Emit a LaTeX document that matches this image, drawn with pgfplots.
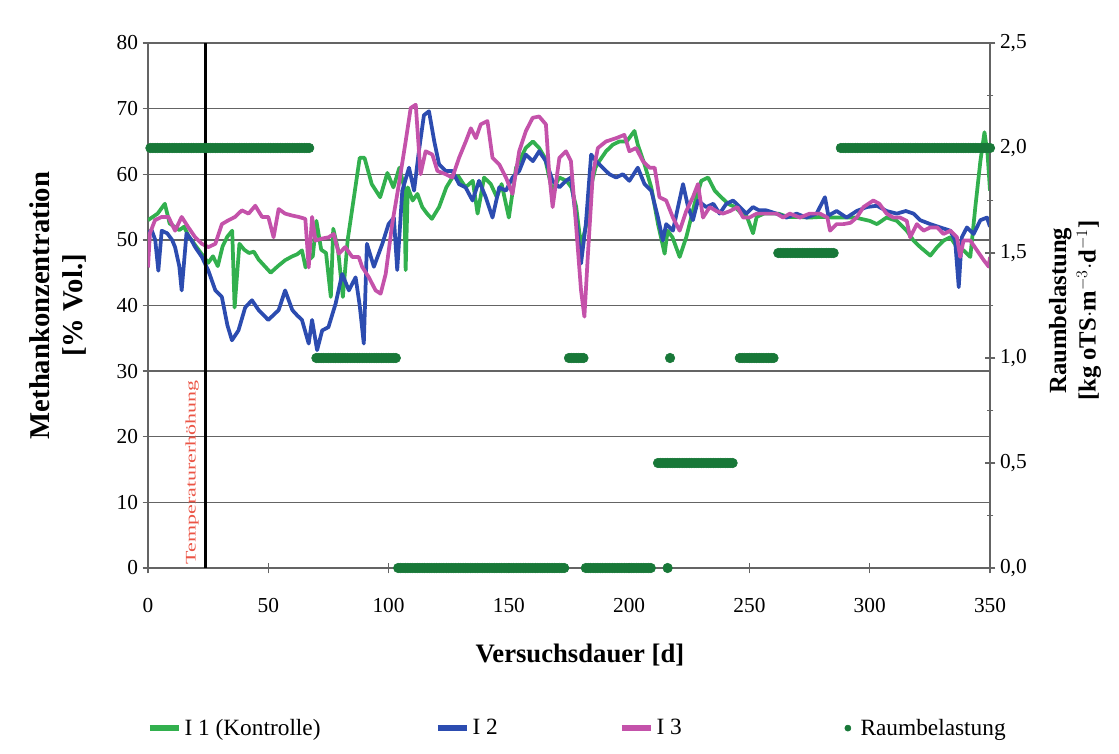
\documentclass[border=0pt]{standalone}
\usepackage{pgfplots}
\pgfplotsset{compat=1.18}
\usepackage{fontspec}
\setmainfont{Liberation Serif}
\usepackage{graphicx}

\definecolor{gI1}{RGB}{50,176,78}
\definecolor{bI2}{RGB}{44,76,176}
\definecolor{pI3}{RGB}{196,82,170}
\definecolor{raum}{RGB}{24,120,56}
\definecolor{gridgray}{RGB}{100,100,100}
\definecolor{tempred}{RGB}{235,85,70}

\pgfplotsset{
  basestyle/.style={
    scale only axis, width=631.5pt, height=393.75pt,
    at={(0,0)}, anchor=south west,
    xmin=0, xmax=350,
    axis line style={gridgray, line width=1pt},
    tick style={gridgray, line width=1pt},
    tick align=center, major tick length=8pt, minor tick length=5pt,
    tick label style={font=\fontsize{16}{18}\selectfont},
    label style={font=\bfseries, align=center},
    /pgf/number format/assume math mode=true,
  },
  serie/.style={line width=2.8pt, #1, line join=round},
  linelegend/.style={legend image code/.code={\draw[##1, line width=4pt] (0pt,0pt) -- (22pt,0pt);}},
}

\begin{document}
\begin{tikzpicture}[x=1pt,y=1pt]
\useasboundingbox (-111,-138.75) rectangle (728.25,426);

% methane concentration, left scale
\begin{axis}[basestyle,
  ymin=0, ymax=80,
  xtick={0,50,...,350}, ytick={0,10,...,80},
  axis x line*=bottom, axis y line*=left,
  xticklabel style={yshift=-15pt},
  ymajorgrids, grid style={gridgray, line width=1.1pt},
  xlabel={Versuchsdauer [d]},
  ylabel={Methankonzentration\\{}[\% Vol.]},
  xlabel style={at={(axis description cs:0.513,-0.166)}, anchor=center, font=\bfseries\fontsize{20}{23}\selectfont},
  ylabel style={at={(axis description cs:-0.107,0.5)}, anchor=center, font=\bfseries\fontsize{21.5}{25}\selectfont},
  legend columns=4,
  legend cell align=left,
  legend style={draw=none, fill=none, at={(axis description cs:-0.006,-0.305)}, anchor=west,
    font=\fontsize{17.5}{20}\selectfont,
    /tikz/every even column/.style={column sep=0pt}},
]
\addplot[serie=gI1, linelegend] coordinates {
(0,53.0) (2,53.5) (4,54) (6,55) (7,55.5) (9,52.5) (11,52) (13,51.5) (15,52) (17,50.5)
(19,49.5) (21,48.5) (23,47.5) (25,46.5) (27,47.5) (29,46) (31,49) (33,50.5) (35,51.4) (36,39.7)
(38,49.4) (40,48.5) (42,48) (44,48.2) (46,47) (49,45.8) (51,45) (54,46) (57,46.9) (60,47.5)
(62,47.8) (64,48.4) (65.5,45.8) (67,47) (68.5,47.5) (70,52.9) (72,48.5) (74,48) (76,41.3) (77,51.7)
(79,48.5) (81,41.3) (83,50) (85,55) (88,62.5) (90,62.5) (93,58.5) (96.5,56.5) (99.5,60.2) (102,58)
(104.5,61) (106.5,58) (107.1,45.4) (108,58) (110,56) (112,57) (114,55) (116,54) (118,53.2) (121,55)
(124,58) (126.5,59.5) (129,59.7) (132,58) (135,59) (137,54) (139.7,59.5) (142.5,58.5) (145,56.5) (147,58.5)
(150,53.4) (153,61) (157,64) (160,65) (162.6,64) (165,62.5) (168,57.5) (171,59.5) (174,59) (176,58)
(178,55) (180,49) (182,52) (184,58) (186,61) (187.6,62) (190.4,63.5) (193.2,64.5) (196,65) (199,65)
(202.2,66.6) (203.6,64.5) (206.4,61.5) (209.2,58) (212,52.4) (214.75,47.9) (216,51.4) (218,50.4) (221,47.4) (223.75,50.4)
(227.2,55.5) (230,59) (232.8,59.5) (235.6,57.5) (238.3,56.5) (241.1,55.5) (244,55) (246.7,54) (249,53.5) (251.5,51)
(253,53.5) (256,54) (259,54) (262,54) (266,53.5) (270,53.5) (275,53.4) (280,53.5) (285,53.4) (289,53.4)
(294,53.4) (300,52.9) (303,52.4) (307,53.4) (311.25,52.9) (315.4,51.4) (318.2,49.9) (321,48.9) (325.2,47.6) (328,48.9)
(330.7,49.9) (333.5,50.4) (336.25,48.9) (339,48.4) (341.8,47.4) (343.9,55) (346,62) (347.7,66.4) (349,63) (350,57.5)
};
\addlegendentry{\makebox[186pt][l]{I 1 (Kontrolle)}}

\addplot[serie=bI2, linelegend] coordinates {
(0,51) (1.5,51.5) (3,50) (4.3,45.3) (5.7,51.4) (8,51) (10,50) (11.25,48.9) (13,46) (14,42.3)
(16,51) (18,50) (19.6,48.9) (22.4,47.4) (25.1,45.3) (28,42.3) (30.7,41.3) (33,37) (34.9,34.7) (37.6,36.2)
(40.4,39.7) (43.2,40.8) (46,39.3) (50,37.8) (52,38.5) (54.3,39.3) (57,42.3) (60,39.3) (62,38.5) (64,37.8)
(66.8,34.2) (68.2,37.8) (70.3,33.2) (72.4,36.2) (75,36.7) (78,40.3) (80.7,44.8) (83.5,42.3) (86.3,44.3) (88,40)
(89.7,34.2) (91,49.4) (93.9,45.9) (97.4,49.4) (100,52.4) (102.2,53.4) (103.6,45.4) (105.7,57.5) (108.5,61) (110.6,57.5)
(112.6,63.5) (114.7,69) (116.8,69.6) (119,65) (121,61.5) (123.8,60.5) (126.5,60.5) (129.3,58.5) (132,58) (134.9,56)
(137.6,59) (140.4,56.5) (143.2,53.4) (146,58) (148.8,57.5) (151.5,59.5) (154.3,60.5) (157,63) (160,62) (162.6,63.5)
(165.4,62) (168.2,59) (171,58) (173.75,59) (175.8,59.5) (177.9,53.4) (180,46.4) (182,52.4) (184.2,63) (186.25,62)
(189,61) (191.8,60) (194.6,59.5) (197.4,60) (200.1,59) (203.6,61) (206.4,58.5) (209.2,57.5) (212,53.4) (214,49.9)
(215.4,52.4) (218.2,51.4) (220.3,55) (222.4,58.5) (224.5,55) (226.5,53) (228.6,56) (232,55) (235,55.5) (237.6,54)
(240.4,55.5) (243.2,56) (246,55) (248.7,54) (251.5,55) (254,54.5) (257,54.5) (261.25,54) (265.4,53.4) (269.6,54)
(273.75,53.4) (277.9,54) (281.4,56.5) (282.8,53.7) (286.25,54.4) (290.4,53.4) (294.6,54.4) (298.75,55) (303,55.2) (307,54.4)
(311.25,54) (315,54.4) (318.2,54) (321,53) (325.2,52.4) (329.3,51.9) (333.5,51.4) (335.5,49.9) (337,42.8) (338.3,50.4)
(340.4,51.9) (343.2,50.9) (346,53) (348.75,53.4) (350,52)
};
\addlegendentry{\makebox[108pt][l]{I 2}}

\addplot[serie=pI3, linelegend] coordinates {
(0,45.8) (0.8,51) (2.9,53) (5.7,53.5) (8.5,53.5) (11.25,51.4) (14,53.5) (16.8,51.9) (19.6,50.4) (22.4,49.4)
(25.1,48.9) (28,49.4) (30.7,52.4) (33.5,53) (36.2,53.5) (39,54.5) (41.8,54) (44.6,55.2) (47.4,53.5) (50,53.5)
(52.2,50.4) (54.3,54.7) (57,54) (60,53.7) (62.6,53.5) (65.4,53.2) (66.8,45.8) (68.2,53.5) (69.6,49.9) (72.4,50.2)
(75.1,50.4) (77.2,50.9) (79.3,47.9) (82,48.9) (84.9,47.4) (87.6,47.4) (89,45.9) (91.8,44.3) (94.6,42.3) (96.7,41.8)
(98.8,44.8) (101.5,52.4) (104.3,58.5) (107.1,65) (109.2,70.1) (111.3,70.6) (113.3,60) (115.4,63.5) (118.2,63) (120.3,60.5)
(123.8,60) (126.5,59.5) (129.3,62.5) (132.1,65) (134.2,67) (136.3,65.5) (138.3,67.6) (141.1,68.1) (143.2,62.5) (146,61.5)
(148.8,59.5) (151.5,57) (154.3,63.5) (157.1,66.6) (159.9,68.6) (162.6,68.8) (165.4,67.6) (166.8,60) (168.2,55) (171,62.5)
(173.75,63.5) (175.8,62) (177.9,52.4) (180,42.3) (181.4,38.3) (182.8,47.4) (184.9,60) (187,64) (190.4,65) (194.6,65.5)
(198,66) (200.1,63.5) (202.9,64) (205.7,62) (208.5,61) (210.6,61) (212.6,56.5) (215.4,56) (218.2,53.4) (221,51.4)
(223.75,54.4) (226.5,56.5) (228.6,58.5) (230.7,53.4) (233.5,55) (236.25,54.4) (239,54) (242,54.4) (245,55) (247.4,53.4)
(250,53.4) (253,54) (257,54) (261.25,54) (264,53.4) (266.8,54) (271,53.4) (275,54) (279.3,54) (282.4,53.4)
(283.5,51.4) (286.25,52.4) (289,52.4) (292,52.6) (294.6,53.4) (297.4,55) (301.5,56) (304,55.5) (307,54) (309.8,53.4)
(312.6,53.4) (315.4,52.9) (316.8,50.4) (319.6,52.4) (322.4,51.4) (325.2,51.9) (328,51.9) (330.7,50.9) (333.5,51.4) (336.25,50.4)
(337.6,47.4) (339,49.9) (341.8,49.9) (344.6,48.4) (347.4,46.9) (349.5,45.9) (350,47.4)
};
\addlegendentry{\makebox[127pt][l]{I 3}}

\addlegendimage{legend image code/.code={\path[draw=none, fill=none] (0pt,-2pt) rectangle (22pt,2pt); \fill[raum] (14.5pt,0pt) circle (2.3pt);}}
\addlegendentry{Raumbelastung}

% start of the temperature increase
\addplot[black, line width=2.4pt, forget plot] coordinates {(24,0) (24,80)};
\node[rotate=90, anchor=west, text=tempred, inner sep=0pt]
  at (axis cs:18.3,0.5) {\scalebox{1.5}[1]{\fontsize{11}{12}\selectfont Temperaturerhöhung}};
\end{axis}

% volumetric loading rate, right scale
\begin{axis}[basestyle,
  ymin=0, ymax=2.5,
  axis x line=none, axis y line*=right,
  ytick={0,0.5,...,2.5}, minor ytick={0.25,0.75,...,2.25},
  yticklabel style={/pgf/number format/.cd, use comma, fixed, fixed zerofill, precision=1},
  ylabel={Raumbelastung\\{}[kg oTS$\cdot$m$^{-3}\cdot$d$^{-1}$]},
  ylabel style={at={(axis description cs:1.101,0.49)}, anchor=center, font=\bfseries\fontsize{18.5}{22}\selectfont},
]
\addplot[only marks, mark=*, mark size=3.6pt, mark options={draw=raum, fill=raum}] coordinates {
(1,2) (2,2) (3,2) (4,2) (5,2) (6,2) (7,2) (8,2) (9,2) (10,2)
(11,2) (12,2) (13,2) (14,2) (15,2) (16,2) (17,2) (18,2) (19,2) (20,2)
(21,2) (22,2) (23,2) (24,2) (25,2) (26,2) (27,2) (28,2) (29,2) (30,2)
(31,2) (32,2) (33,2) (34,2) (35,2) (36,2) (37,2) (38,2) (39,2) (40,2)
(41,2) (42,2) (43,2) (44,2) (45,2) (46,2) (47,2) (48,2) (49,2) (50,2)
(51,2) (52,2) (53,2) (54,2) (55,2) (56,2) (57,2) (58,2) (59,2) (60,2)
(61,2) (62,2) (63,2) (64,2) (65,2) (66,2) (67,2)
(70,1) (71,1) (72,1) (73,1) (74,1) (75,1) (76,1) (77,1) (78,1) (79,1)
(80,1) (81,1) (82,1) (83,1) (84,1) (85,1) (86,1) (87,1) (88,1) (89,1)
(90,1) (91,1) (92,1) (93,1) (94,1) (95,1) (96,1) (97,1) (98,1) (99,1)
(100,1) (101,1) (102,1) (103,1)
(104,0) (105,0) (106,0) (107,0) (108,0) (109,0) (110,0) (111,0) (112,0) (113,0)
(114,0) (115,0) (116,0) (117,0) (118,0) (119,0) (120,0) (121,0) (122,0) (123,0)
(124,0) (125,0) (126,0) (127,0) (128,0) (129,0) (130,0) (131,0) (132,0) (133,0)
(134,0) (135,0) (136,0) (137,0) (138,0) (139,0) (140,0) (141,0) (142,0) (143,0)
(144,0) (145,0) (146,0) (147,0) (148,0) (149,0) (150,0) (151,0) (152,0) (153,0)
(154,0) (155,0) (156,0) (157,0) (158,0) (159,0) (160,0) (161,0) (162,0) (163,0)
(164,0) (165,0) (166,0) (167,0) (168,0) (169,0) (170,0) (171,0) (172,0) (173,0)
(175,1) (176,1) (177,1) (178,1) (179,1) (180,1) (181,1)
(182,0) (183,0) (184,0) (185,0) (186,0) (187,0) (188,0) (189,0) (190,0) (191,0)
(192,0) (193,0) (194,0) (195,0) (196,0) (197,0) (198,0) (199,0) (200,0) (201,0)
(202,0) (203,0) (204,0) (205,0) (206,0) (207,0) (208,0) (209,0)
(212,0.5) (213,0.5) (214,0.5) (215,0.5) (216,0.5) (217,0.5) (218,0.5) (219,0.5) (220,0.5) (221,0.5)
(222,0.5) (223,0.5) (224,0.5) (225,0.5) (226,0.5) (227,0.5) (228,0.5) (229,0.5) (230,0.5) (231,0.5)
(232,0.5) (233,0.5) (234,0.5) (235,0.5) (236,0.5) (237,0.5) (238,0.5) (239,0.5) (240,0.5) (241,0.5)
(242,0.5) (243,0.5)
(216,0) (217,1)
(246,1) (247,1) (248,1) (249,1) (250,1) (251,1) (252,1) (253,1) (254,1) (255,1)
(256,1) (257,1) (258,1) (259,1) (260,1)
(262,1.5) (263,1.5) (264,1.5) (265,1.5) (266,1.5) (267,1.5) (268,1.5) (269,1.5) (270,1.5) (271,1.5)
(272,1.5) (273,1.5) (274,1.5) (275,1.5) (276,1.5) (277,1.5) (278,1.5) (279,1.5) (280,1.5) (281,1.5)
(282,1.5) (283,1.5) (284,1.5) (285,1.5)
(288,2) (289,2) (290,2) (291,2) (292,2) (293,2) (294,2) (295,2) (296,2) (297,2)
(298,2) (299,2) (300,2) (301,2) (302,2) (303,2) (304,2) (305,2) (306,2) (307,2)
(308,2) (309,2) (310,2) (311,2) (312,2) (313,2) (314,2) (315,2) (316,2) (317,2)
(318,2) (319,2) (320,2) (321,2) (322,2) (323,2) (324,2) (325,2) (326,2) (327,2)
(328,2) (329,2) (330,2) (331,2) (332,2) (333,2) (334,2) (335,2) (336,2) (337,2)
(338,2) (339,2) (340,2) (341,2) (342,2) (343,2) (344,2) (345,2) (346,2) (347,2)
(348,2) (349,2) (350,2)
};
\end{axis}
\end{tikzpicture}
\end{document}
